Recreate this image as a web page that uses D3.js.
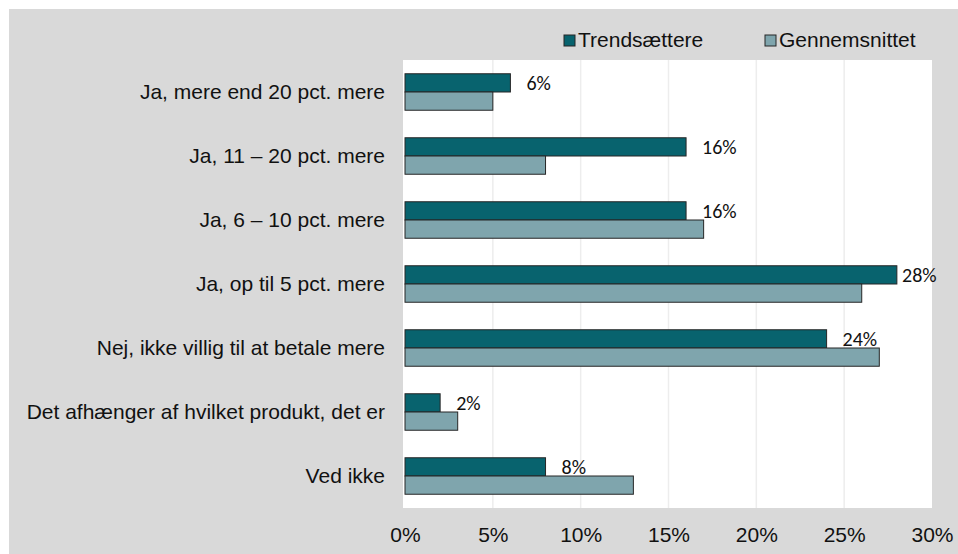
<html>
<head>
<meta charset="utf-8">
<script src="https://cdn.jsdelivr.net/npm/d3@7"></script>
<style>
  body { margin: 0; background: #fff; }
  text { font-family: "Liberation Sans", Arial, sans-serif; fill: #111; }
  .lbl { font-family: Carlito, Calibri, Lato, sans-serif; }
</style>
</head>
<body>
<div id="chart"></div>
<script>
// data
var categories = [
  "Ja, mere end 20 pct. mere",
  "Ja, 11 \u2013 20 pct. mere",
  "Ja, 6 \u2013 10 pct. mere",
  "Ja, op til 5 pct. mere",
  "Nej, ikke villig til at betale mere",
  "Det afh\u00e6nger af hvilket produkt, det er",
  "Ved ikke"
];
var seriesNames = ["Trends\u00e6ttere", "Gennemsnittet"];
var trendsaettere = [6, 16, 16, 28, 24, 2, 8];
var gennemsnittet = [5, 8, 17, 26, 27, 3, 13];
var xTicks = [0, 5, 10, 15, 20, 25, 30];

var colors = ["#08636e", "#7fa5ad"];
var W = 958, H = 554;
var plot = {left: 403, top: 60, right: 932, bottom: 508};

var svg = d3.select("#chart").append("svg")
  .attr("width", W).attr("height", H);

// grey frame + white plot area
svg.append("rect").attr("x", 9).attr("y", 9)
  .attr("width", W - 9).attr("height", H - 9).attr("fill", "#d9d9d9");
svg.append("rect").attr("x", plot.left).attr("y", plot.top)
  .attr("width", plot.right - plot.left).attr("height", plot.bottom - plot.top)
  .attr("fill", "#fff");

var x = d3.scaleLinear().domain([0, 30]).range([405, plot.right]);
var y = d3.scaleBand().domain(categories).range([plot.top, plot.bottom])
  .paddingInner(0.43).paddingOuter(0.215);
var ySub = d3.scaleBand().domain(seriesNames).range([0, y.bandwidth()]);

// gridlines
svg.append("g").selectAll("line")
  .data(xTicks.filter(function(d) { return d > 0 && d < 30; }))
  .enter().append("line")
    .attr("x1", function(d) { return x(d); })
    .attr("x2", function(d) { return x(d); })
    .attr("y1", plot.top).attr("y2", plot.bottom)
    .attr("stroke", "#ededed").attr("stroke-width", 1.5);

var rows = categories.map(function(c, i) {
  return {cat: c, vals: [trendsaettere[i], gennemsnittet[i]]};
});

var groups = svg.append("g").selectAll("g")
  .data(rows).enter().append("g")
    .attr("transform", function(d) { return "translate(0," + y(d.cat) + ")"; });

groups.selectAll("rect")
  .data(function(d) { return d.vals.map(function(v, j) { return {s: seriesNames[j], v: v, j: j}; }); })
  .enter().append("rect")
    .attr("x", x(0))
    .attr("y", function(d) { return ySub(d.s); })
    .attr("width", function(d) { return x(d.v) - x(0); })
    .attr("height", ySub.bandwidth())
    .attr("fill", function(d) { return colors[d.j]; })
    .attr("stroke", "#262626").attr("stroke-width", 1);

// value labels for Trendsættere
groups.append("text")
  .attr("class", "lbl")
  .attr("x", function(d) { return Math.min(x(d.vals[0]) + 16, plot.right - 30); })
  .attr("y", ySub.bandwidth() - 2)
  .style("font-size", "20px")
  .text(function(d) { return d.vals[0] + "%"; });

// axes
var xAxis = svg.append("g")
  .attr("transform", "translate(0," + plot.bottom + ")")
  .call(d3.axisBottom(x).tickValues(xTicks).tickSize(0).tickPadding(19)
    .tickFormat(function(d) { return d + "%"; }));
xAxis.select(".domain").remove();
xAxis.selectAll("text").style("font-size", "21px").style("font-family", "'Liberation Sans', Arial, sans-serif").attr("fill", "#111");

var yAxis = svg.append("g")
  .attr("transform", "translate(" + plot.left + ",0)")
  .call(d3.axisLeft(y).tickSize(0).tickPadding(18));
yAxis.select(".domain").remove();
yAxis.selectAll("text").style("font-size", "21px").style("font-family", "'Liberation Sans', Arial, sans-serif").attr("fill", "#111");

// legend
var legX = [564, 765];
var leg = svg.append("g").selectAll("g")
  .data(seriesNames).enter().append("g")
    .attr("transform", function(d, i) { return "translate(" + legX[i] + ",35)"; });
leg.append("rect").attr("width", 11).attr("height", 11)
  .attr("fill", function(d, i) { return colors[i]; })
  .attr("stroke", "#262626").attr("stroke-width", 1);
leg.append("text").attr("x", 14).attr("y", 12)
  .style("font-size", "21px")
  .text(function(d) { return d; });
</script>
</body>
</html>
